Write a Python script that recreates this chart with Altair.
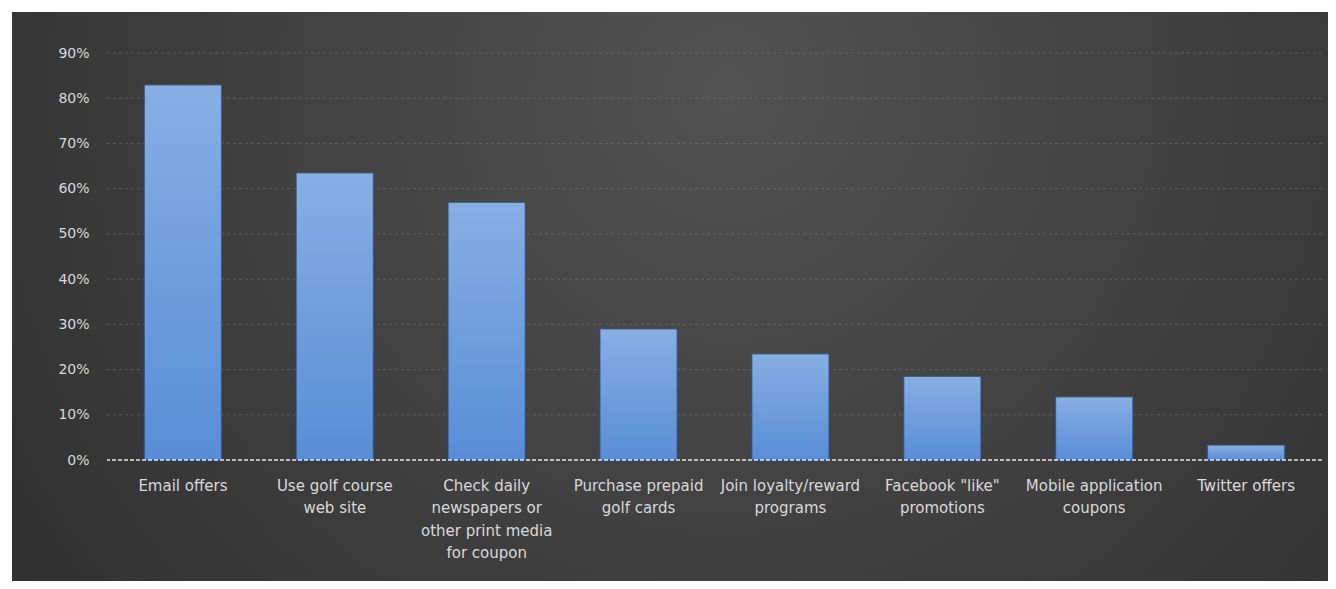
import altair as alt
import pandas as pd

# ---- data ----
categories = [
    "Email offers",
    "Use golf course|web site",
    "Check daily|newspapers or|other print media|for coupon",
    "Purchase prepaid|golf cards",
    "Join loyalty/reward|programs",
    'Facebook "like"|promotions',
    "Mobile application|coupons",
    "Twitter offers",
]
values = [0.83, 0.635, 0.57, 0.29, 0.235, 0.185, 0.14, 0.033]
y_ticks = [0.0, 0.1, 0.2, 0.3, 0.4, 0.5, 0.6, 0.7, 0.8, 0.9]
grid_ticks = [0.1, 0.2, 0.3, 0.4, 0.5, 0.6, 0.7, 0.8, 0.9]
baseline = [0.0]

df = pd.DataFrame({"category": categories, "value": values})
grid_df = pd.DataFrame({"value": grid_ticks})
base_df = pd.DataFrame({"value": baseline})

PLOT_W, PLOT_H = 1215, 407
PAD = {"left": 99, "top": 45, "right": 6, "bottom": 121}
LABEL_COLOR = "#d9d9d9"
FONT = "DejaVu Sans"

y_scale = alt.Scale(domain=[0, 0.9], nice=False)
y_axis = alt.Axis(
    title=None,
    values=y_ticks,
    format=".0%",
    grid=False,
    domain=False,
    ticks=False,
    labelPadding=18,
    labelColor=LABEL_COLOR,
    labelFont=FONT,
    labelFontSize=14,
    zindex=1,
)

# background panel with radial gradient (covers whole chart area)
bg = alt.Chart(alt.Data(values=[{"a": 1}])).mark_rect(
    fill=alt.RadialGradient(
        gradient="radial",
        x1=0.5, y1=0.35, r1=0.0,
        x2=0.5, y2=0.35, r2=0.75,
        stops=[
            alt.GradientStop(color="#525252", offset=0),
            alt.GradientStop(color="#393939", offset=0.6),
            alt.GradientStop(color="#282828", offset=1),
        ],
    ),
    stroke=None,
).encode(
    x=alt.value(-95), x2=alt.value(PLOT_W + 120),
    y=alt.value(-41), y2=alt.value(PLOT_H + 130),
)

grid = alt.Chart(grid_df).mark_rule(
    color="#8a8a8a", strokeOpacity=0.4, strokeDash=[3, 3], strokeWidth=1
).encode(y=alt.Y("value:Q", scale=y_scale, axis=y_axis))

bars = alt.Chart(df).mark_bar(
    fill=alt.LinearGradient(
        gradient="linear",
        x1=0, y1=0, x2=0, y2=1,
        stops=[
            alt.GradientStop(color="#87afe3", offset=0),
            alt.GradientStop(color="#588dd7", offset=1),
        ],
    ),
    stroke="#2c4a73",
    strokeWidth=1.5,
    strokeOpacity=0.7,
).encode(
    x=alt.X(
        "category:N",
        sort=categories,
        scale=alt.Scale(paddingInner=0.49, paddingOuter=0.245),
        axis=alt.Axis(
            title=None,
            labelAngle=0,
            labelExpr="split(datum.label, '|')",
            ticks=False,
            domain=False,
            labelColor=LABEL_COLOR,
            labelFont=FONT,
            labelFontSize=15,
            labelLineHeight=22.5,
            labelPadding=18,
            labelBaseline="top",
            zindex=1,
        ),
    ),
    y=alt.Y("value:Q", scale=y_scale, axis=y_axis),
)

zero = alt.Chart(base_df).mark_rule(
    color="#e8e8e8", strokeDash=[4, 2], strokeWidth=1.5
).encode(y=alt.Y("value:Q", scale=y_scale, axis=y_axis))

chart = alt.layer(bg, grid, bars, zero).properties(
    width=PLOT_W,
    height=PLOT_H,
    autosize=alt.AutoSizeParams(type="none"),
    padding=PAD,
    background="white",
).configure_view(stroke=None)

chart.save("out.html", embed_options={"renderer": "svg", "actions": False})
